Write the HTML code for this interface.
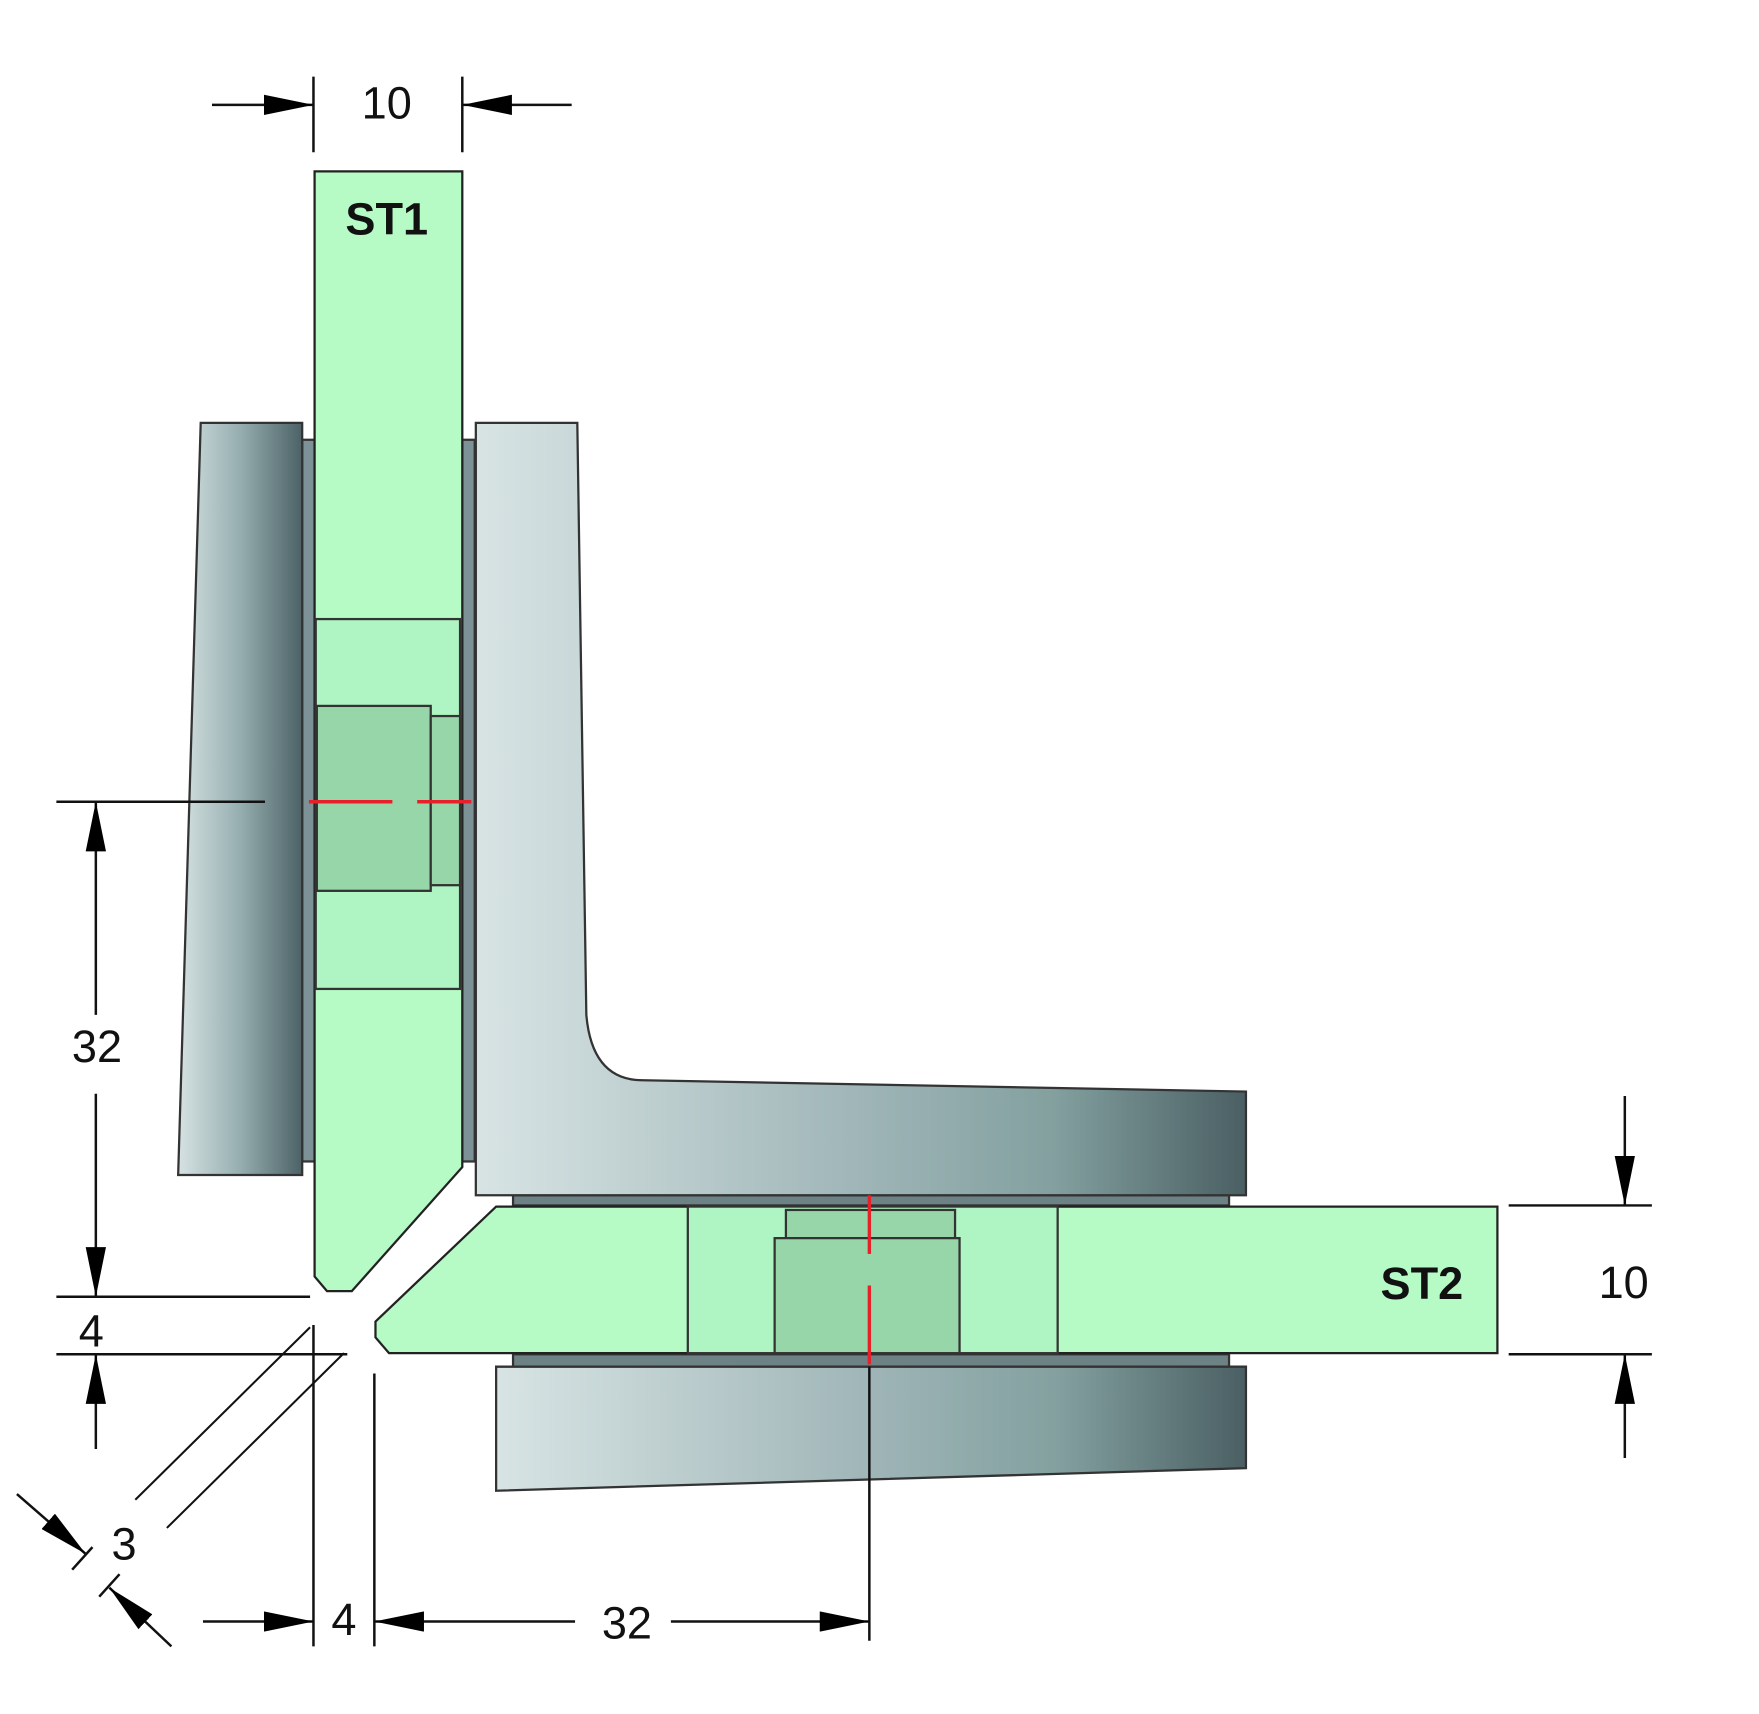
<!DOCTYPE html>
<html><head><meta charset="utf-8"><style>
html,body{margin:0;padding:0;background:#fff;}
svg{display:block;}
text{font-family:"Liberation Sans",sans-serif;fill:#111;}
</style></head><body>
<svg width="1759" height="1714" viewBox="0 0 1560 1520" preserveAspectRatio="none" xmlns="http://www.w3.org/2000/svg">
<defs>
<linearGradient id="gl" x1="0" y1="0" x2="1" y2="0">
<stop offset="0" stop-color="#d6e2e2"/><stop offset="0.5" stop-color="#96aeb0"/><stop offset="1" stop-color="#4c6266"/>
</linearGradient>
<linearGradient id="gr" x1="0" y1="0" x2="1" y2="0">
<stop offset="0" stop-color="#d8e4e4"/><stop offset="0.5" stop-color="#9fb5b7"/><stop offset="0.75" stop-color="#83a09f"/><stop offset="1" stop-color="#4a5f63"/>
</linearGradient>
<marker id="a" viewBox="0 0 44 18" refX="44" refY="9" markerWidth="44" markerHeight="18" markerUnits="userSpaceOnUse" orient="auto"><path d="M0,0 L44,9 L0,18 Z" fill="#000"/></marker>
</defs>
<g stroke="#333" stroke-width="2">
<rect x="268" y="390" width="11" height="640" fill="#7d9296"/>
<polygon points="178,375 268,375 268,1042 158,1042" fill="url(#gl)"/>
<rect x="410" y="390" width="11" height="640" fill="#7d9296"/>
<rect x="455" y="1060" width="635" height="9" fill="#6c8285"/>
<path d="M422,375 L512,375 L520,900 Q525,958 570,958 L1105,968 L1105,1060 L422,1060 Z" fill="url(#gr)"/>
<rect x="455" y="1201" width="635" height="11" fill="#6c8285"/>
<polygon points="440,1212 1105,1212 1105,1302 440,1322" fill="url(#gr)"/>
<polygon points="279,152 410,152 410,1035 312,1145 290,1145 279,1132" fill="#b6fac6" stroke="#222"/>
<rect x="280" y="549" width="128" height="328" fill="#aff4c3"/>
<rect x="281" y="626" width="101" height="164" fill="#96d6a9"/>
<rect x="382" y="635" width="26" height="150" fill="#96d6a9"/>
<polygon points="440,1070 1328,1070 1328,1200 345,1200 333,1186 333,1172" fill="#b6fac6" stroke="#222"/>
<rect x="610" y="1070" width="328" height="130" fill="#aff4c3"/>
<rect x="697" y="1073" width="150" height="25" fill="#96d6a9"/>
<rect x="687" y="1098" width="164" height="102" fill="#96d6a9"/>
</g>
<g stroke="#e8202a" stroke-width="3">
<line x1="274" y1="711" x2="348" y2="711"/><line x1="370" y1="711" x2="418" y2="711"/>
<line x1="771" y1="1060" x2="771" y2="1112"/><line x1="771" y1="1140" x2="771" y2="1210"/>
</g>
<g stroke="#111" stroke-width="2.2" fill="none">
<line x1="278" y1="68" x2="278" y2="135"/><line x1="410" y1="68" x2="410" y2="135"/>
<line x1="188" y1="93" x2="278" y2="93" marker-end="url(#a)"/>
<line x1="507" y1="93" x2="410" y2="93" marker-end="url(#a)"/>
<line x1="50" y1="711" x2="235" y2="711"/>
<line x1="50" y1="1150" x2="275" y2="1150"/>
<line x1="50" y1="1201" x2="308" y2="1201"/>
<line x1="85" y1="900" x2="85" y2="711" marker-end="url(#a)"/>
<line x1="85" y1="970" x2="85" y2="1150" marker-end="url(#a)"/>
<line x1="85" y1="1285" x2="85" y2="1201" marker-end="url(#a)"/>
<line x1="1441" y1="972" x2="1441" y2="1069" marker-end="url(#a)"/>
<line x1="1441" y1="1293" x2="1441" y2="1201" marker-end="url(#a)"/>
<line x1="1338" y1="1069" x2="1465" y2="1069"/>
<line x1="1338" y1="1201" x2="1465" y2="1201"/>
<line x1="278" y1="1175" x2="278" y2="1460"/>
<line x1="332" y1="1218" x2="332" y2="1460"/>
<line x1="771" y1="1212" x2="771" y2="1455"/>
<line x1="180" y1="1438" x2="278" y2="1438" marker-end="url(#a)"/>
<line x1="510" y1="1438" x2="332" y2="1438" marker-end="url(#a)"/>
<line x1="595" y1="1438" x2="771" y2="1438" marker-end="url(#a)"/>
<line x1="275" y1="1177" x2="120" y2="1330" stroke-width="1.8"/>
<line x1="305" y1="1200" x2="148" y2="1355" stroke-width="1.8"/>
<line x1="15" y1="1325" x2="76" y2="1378" marker-end="url(#a)"/>
<line x1="152" y1="1460" x2="97" y2="1408" marker-end="url(#a)"/>
<line x1="64" y1="1392" x2="82" y2="1372"/>
<line x1="88" y1="1416" x2="106" y2="1396"/>
</g>
<g font-size="40">
<text x="343" y="105" text-anchor="middle">10</text>
<text x="86" y="942" text-anchor="middle">32</text>
<text x="81" y="1194" text-anchor="middle">4</text>
<text x="1440" y="1151" text-anchor="middle">10</text>
<text x="305" y="1450" text-anchor="middle">4</text>
<text x="556" y="1453" text-anchor="middle">32</text>
<text x="110" y="1383" text-anchor="middle">3</text>
</g>
<g font-size="40" font-weight="bold">
<text x="343" y="208" text-anchor="middle">ST1</text>
<text x="1261" y="1152" text-anchor="middle">ST2</text>
</g>
</svg>
</body></html>
